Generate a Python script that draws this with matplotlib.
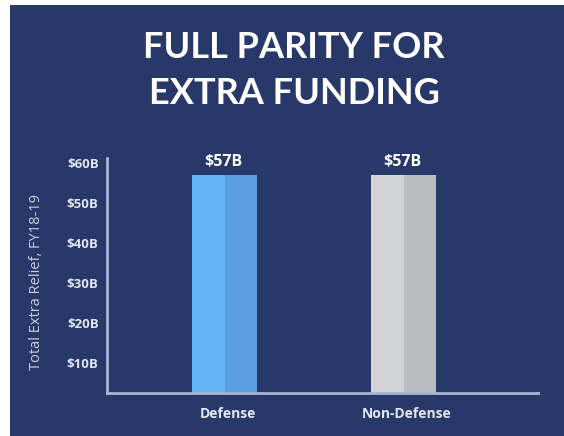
import matplotlib
matplotlib.use("Agg")
import matplotlib.pyplot as plt
from matplotlib.patches import Rectangle

categories = ["Defense", "Non-Defense"]
values = [57, 57]
value_labels = ["$57B", "$57B"]
yticks = [10, 20, 30, 40, 50, 60]
ytick_labels = ["$10B", "$20B", "$30B", "$40B", "$50B", "$60B"]
title_lines = ["FULL PARITY FOR", "EXTRA FUNDING"]
ylabel = "Total Extra Relief, FY18-19"

navy = "#273869"
left_colors = ["#65b4f5", "#d2d3d5"]
right_colors = ["#5c9fe0", "#b9bcc1"]
text_col = "#e3e7f1"
spine_col = "#a8b6d6"

W, H = 564, 436
fig = plt.figure(figsize=(W / 100, H / 100), dpi=100)
fig.patch.set_facecolor("white")
fig.add_artist(Rectangle((10 / W, 0), 1 - 10 / W, 1 - 5 / H, transform=fig.transFigure,
                         facecolor=navy, edgecolor="none", zorder=0))

ax = fig.add_axes([107 / W, 1 - 393 / H, (538 - 107) / W, (393 - 158) / H])
ax.set_facecolor("none")
x = list(range(len(categories)))
w = 0.363
ax.bar([i - w / 4 for i in x], values, w / 2, color=left_colors, zorder=2)
ax.bar([i + w / 4 for i in x], values, w / 2, color=right_colors, zorder=2)
ax.set_xlim(-0.659, 1.749)
ax.set_ylim(2.5, 61.3)

for i, (v, lab) in enumerate(zip(values, value_labels)):
    ax.annotate(lab, (i - 0.01, v), xytext=(0, 4), textcoords="offset points",
                ha="center", va="bottom", color="white", fontsize=11.5,
                fontweight="bold", family="Open Sans")

ax.set_yticks(yticks)
ax.set_yticklabels(ytick_labels)
ax.set_xticks([i + 0.015 for i in x])
ax.set_xticklabels(categories)
ax.tick_params(axis="y", length=0, pad=6, labelcolor=text_col, labelsize=9.5)
ax.tick_params(axis="x", length=0, pad=10, labelcolor=text_col, labelsize=10)
for lbl in ax.get_yticklabels() + ax.get_xticklabels():
    lbl.set_fontweight("bold")
    lbl.set_family("Open Sans")

for s in ["top", "right"]:
    ax.spines[s].set_visible(False)
for s in ["left", "bottom"]:
    ax.spines[s].set_color(spine_col)
    ax.spines[s].set_linewidth(2)

fig.text(37 / W, 1 - 282 / H, ylabel, rotation=90, ha="center", va="center",
         color="#c9cfe2", fontsize=10.5, family="Open Sans")

for yc, line in zip([47, 93], title_lines):
    fig.text(294 / W, 1 - yc / H, line, ha="center", va="center", color="white",
             fontsize=26, fontweight="bold", family="Lato")

fig.savefig("out.png", dpi=100, facecolor=fig.get_facecolor())
